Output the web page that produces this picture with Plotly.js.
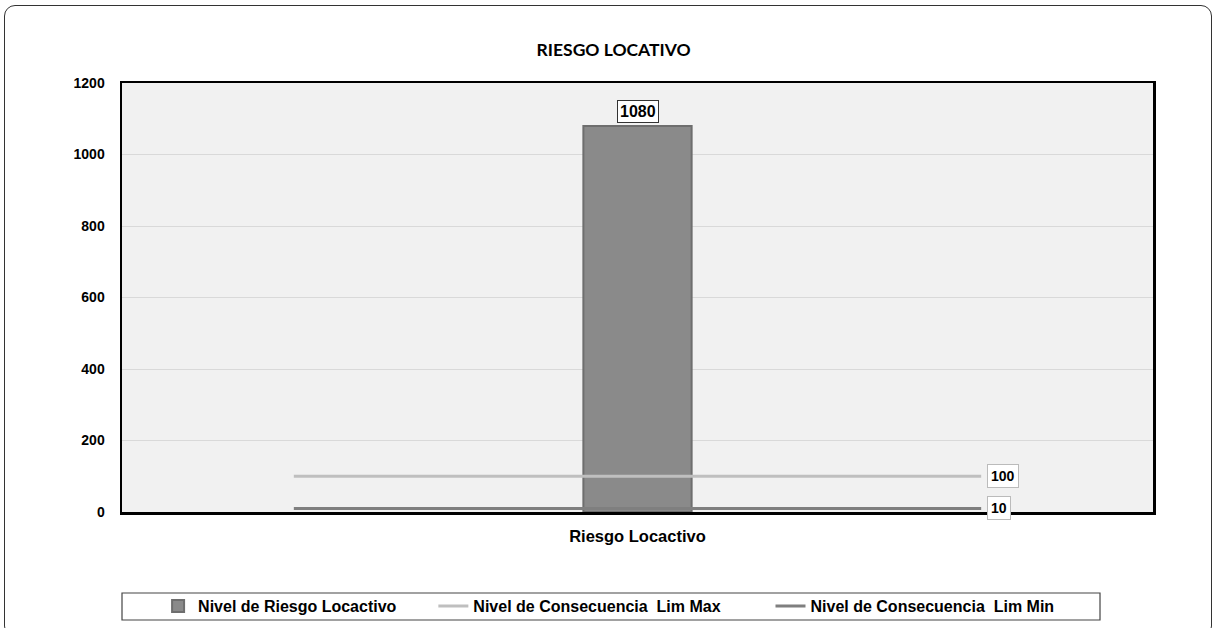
<!DOCTYPE html>
<html>
<head>
<meta charset="utf-8">
<script src="https://cdn.plot.ly/plotly-3.0.1.min.js"></script>
<style>
  html, body { margin: 0; padding: 0; background: #ffffff; }
  #wrap { position: relative; width: 1215px; height: 628px; overflow: hidden; }
  #chart { position: absolute; left: 0; top: 0; width: 1215px; height: 628px; }
  #frame { position: absolute; left: 4px; top: 5px; width: 1206px; height: 630px;
           border: 1.5px solid #333; border-radius: 11px; pointer-events: none; }
</style>
</head>
<body>
<div id="wrap">
  <div id="chart"></div>
  <div id="frame"></div>
</div>
<script>
// ---- data ----
const categories = ["Riesgo Locactivo"];
const riesgoValues = [1080];
const limMaxValue = 100;
const limMinValue = 10;
const seriesNames = ["Nivel de Riesgo Locactivo", "Nivel de Consecuencia  Lim Max", "Nivel de Consecuencia  Lim Min"];
const yTicks = [0, 200, 400, 600, 800, 1000, 1200];
const chartTitle = "RIESGO LOCATIVO";

// line span endpoints on the helper axis
const spanX = [0, 1];
const limMax = spanX.map(() => limMaxValue);
const limMin = spanX.map(() => limMinValue);

const fam = "Liberation Sans, Arial, sans-serif";
const b = s => "<b>" + s + "</b>";

const traces = [
  {
    type: "bar", x: categories, y: riesgoValues, name: b(seriesNames[0]),
    width: 0.105,
    marker: { color: "#8a8a8a", line: { color: "#6e6e6e", width: 2 } },
    legend: "legend", hoverinfo: "y"
  },
  {
    type: "scatter", mode: "lines", x: spanX, y: limMax, name: b(seriesNames[1]),
    xaxis: "x2", line: { color: "#bfbfbf", width: 3 }, legend: "legend2"
  },
  {
    type: "scatter", mode: "lines", x: spanX, y: limMin, name: b(seriesNames[2]),
    xaxis: "x2", line: { color: "#7f7f7f", width: 3 }, legend: "legend3"
  }
];

const legendBase = {
  orientation: "h", yref: "container", yanchor: "middle", y: 1 - 606 / 628,
  xanchor: "left",
  bgcolor: "rgba(0,0,0,0)", font: { family: fam, size: 16, color: "#000" }
};

const layout = {
  width: 1215, height: 628,
  margin: { l: 122, r: 62, t: 83, b: 116 },
  paper_bgcolor: "#ffffff",
  plot_bgcolor: "#f1f1f1",
  showlegend: true,
  title: {
    text: b(chartTitle),
    font: { family: "Lato, sans-serif", size: 17.5, color: "#000" },
    x: 0.505, xref: "container", xanchor: "center",
    y: 1 - 50 / 628, yref: "container", yanchor: "middle"
  },
  xaxis: {
    type: "category", range: [-0.5, 0.5], showgrid: false,
    tickvals: categories, ticktext: categories.map(b),
    showline: true, linecolor: "#000", linewidth: 2.5, mirror: true,
    ticks: "", tickfont: { family: fam, size: 16.5, color: "#000" }, ticklabelstandoff: 8, fixedrange: true
  },
  xaxis2: {
    overlaying: "x", range: [-0.25, 1.25], visible: false, fixedrange: true
  },
  yaxis: {
    range: [0, 1200], tickvals: yTicks, ticktext: yTicks.map(v => b(String(v))),
    showgrid: true, gridcolor: "#d9d9d9", gridwidth: 1,
    showline: true, linecolor: "#000", linewidth: 2.5, mirror: true,
    zeroline: false, ticks: "", tickfont: { family: fam, size: 14, color: "#000" },
    ticklabelstandoff: 12, fixedrange: true
  },
  legend: Object.assign({}, legendBase, { x: 0.035 }),
  legend2: Object.assign({}, legendBase, { x: 0.302 }),
  legend3: Object.assign({}, legendBase, { x: 0.629 }),
  shapes: [
    { type: "rect", xref: "paper", yref: "paper", x0: 0, x1: 0.9486,
      y0: (512 - 620) / 429, y1: (512 - 593) / 429,
      line: { color: "#444", width: 1.2 }, fillcolor: "rgba(0,0,0,0)", layer: "below" }
  ],
  annotations: [
    {
      x: categories[0], y: riesgoValues[0], xref: "x", yref: "y",
      text: b(riesgoValues[0]), showarrow: false,
      yanchor: "bottom", yshift: 3,
      font: { family: fam, size: 16, color: "#000" },
      bgcolor: "#ffffff", bordercolor: "#333", borderwidth: 1, borderpad: 2
    },
    {
      x: spanX[spanX.length - 1], y: limMax[limMax.length - 1], xref: "x2", yref: "y",
      text: b(limMaxValue), showarrow: false,
      xanchor: "left", xshift: 6,
      font: { family: fam, size: 14, color: "#000" },
      bgcolor: "#ffffff", bordercolor: "#bbbbbb", borderwidth: 1, borderpad: 3
    },
    {
      x: spanX[spanX.length - 1], y: limMin[limMin.length - 1], xref: "x2", yref: "y",
      text: b(limMinValue), showarrow: false,
      xanchor: "left", xshift: 6,
      font: { family: fam, size: 14, color: "#000" },
      bgcolor: "#ffffff", bordercolor: "#bbbbbb", borderwidth: 1, borderpad: 3
    }
  ]
};

Plotly.newPlot("chart", traces, layout, { displayModeBar: false, staticPlot: true });
</script>
</body>
</html>
